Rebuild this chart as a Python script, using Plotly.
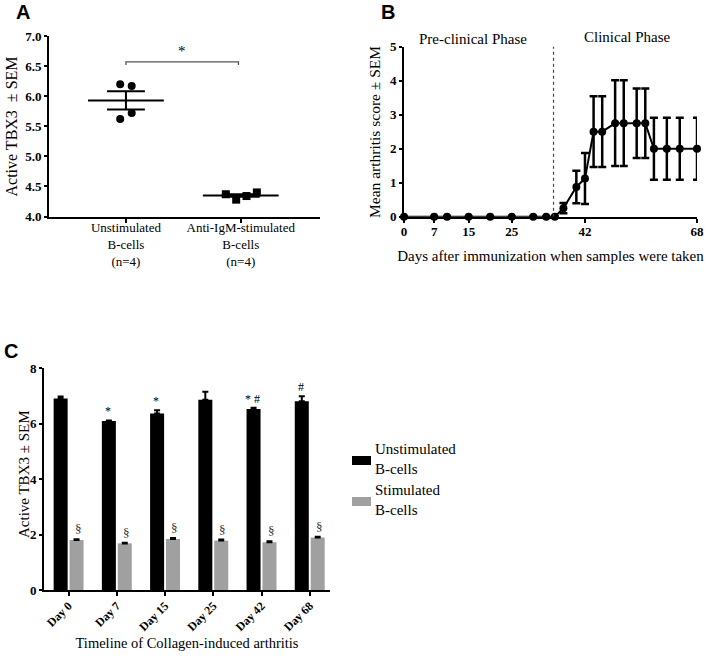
import plotly.graph_objects as go

# ---------------- Panel A data ----------------
a_groups = ["Unstimulated<br>B-cells<br>(n=4)", "Anti-IgM-stimulated<br>B-cells<br>(n=4)"]
a_unstim = [6.20, 6.17, 5.72, 5.62]
a_unstim_jitter = [-0.05, 0.05, 0.05, -0.05]
a_stim = [4.37, 4.28, 4.34, 4.40]
a_stim_jitter = [-0.13, -0.04, 0.05, 0.14]
a_means = [5.93, 4.35]
a_sems = [0.15, 0.02]

# ---------------- Panel B data ----------------
b_days = [0, 7, 10, 15, 20, 25, 30, 33, 35, 37, 40, 42, 44, 46, 49, 51, 54, 56, 58, 61, 64, 68]
b_mean = [0, 0, 0, 0, 0, 0, 0, 0, 0, 0.25, 0.875, 1.125, 2.5, 2.5, 2.75, 2.75, 2.75, 2.75, 2.0, 2.0, 2.0, 2.0]
b_sem = [0, 0, 0, 0, 0, 0, 0, 0, 0, 0.15, 0.48, 0.75, 1.04, 1.04, 1.26, 1.26, 1.02, 1.02, 0.91, 0.91, 0.91, 0.91]
b_ticks = [0, 7, 15, 25, 42, 68]
b_phase_split = 34.7

# ---------------- Panel C data ----------------
c_days = ["Day 0", "Day 7", "Day 15", "Day 25", "Day 42", "Day 68"]
c_series = ["Unstimulated<br>B-cells", "Stimulated<br>B-cells"]
c_unstim = [6.90, 6.09, 6.36, 6.86, 6.52, 6.80]
c_unstim_sem = [0.07, 0.02, 0.12, 0.28, 0.05, 0.18]
c_stim = [1.80, 1.68, 1.84, 1.78, 1.72, 1.89]
c_stim_sem = [0.03, 0.02, 0.03, 0.04, 0.04, 0.03]
c_unstim_marks = ["", "*", "*", "", "* #", "#"]
c_stim_marks = ["§", "§", "§", "§", "§", "§"]

W, H = 709, 658
SERIF = "Liberation Serif"
SANS = "Liberation Sans"
BLACK = "black"
GREY = "#a0a0a0"

def px(x):
    return x / W

def py(y):
    return 1 - y / H

fig = go.Figure()

# ---- Panel A traces ----
fig.add_trace(go.Scatter(
    x=[1 + j for j in a_unstim_jitter], y=a_unstim, mode="markers",
    marker=dict(symbol="circle", size=8, color=BLACK),
    xaxis="x", yaxis="y", showlegend=False, cliponaxis=False))
fig.add_trace(go.Scatter(
    x=[2 + j for j in a_stim_jitter], y=a_stim, mode="markers",
    marker=dict(symbol="square", size=8, color=BLACK),
    xaxis="x", yaxis="y", showlegend=False, cliponaxis=False))

shapes = []
for i, (m, s) in enumerate(zip(a_means, a_sems)):
    c = i + 1
    shapes.append(dict(type="line", xref="x", yref="y", x0=c - 0.33, x1=c + 0.33, y0=m, y1=m,
                       line=dict(color=BLACK, width=2)))
    shapes.append(dict(type="line", xref="x", yref="y", x0=c - 0.165, x1=c + 0.165, y0=m + s, y1=m + s,
                       line=dict(color=BLACK, width=2)))
    shapes.append(dict(type="line", xref="x", yref="y", x0=c - 0.165, x1=c + 0.165, y0=m - s, y1=m - s,
                       line=dict(color=BLACK, width=2)))
    shapes.append(dict(type="line", xref="x", yref="y", x0=c, x1=c, y0=m - s, y1=m + s,
                       line=dict(color=BLACK, width=2)))

# significance bracket
shapes.append(dict(type="path", xref="x", yref="y",
                   path="M 1,6.52 L 1,6.57 L 1.98,6.57 L 1.98,6.52",
                   line=dict(color="#555555", width=1.3)))

# ---- Panel B trace ----
fig.add_trace(go.Scatter(
    x=b_days, y=b_mean, mode="lines+markers",
    line=dict(color=BLACK, width=2),
    marker=dict(symbol="circle", size=8, color=BLACK),
    error_y=dict(type="data", array=b_sem, visible=True, color=BLACK, thickness=2.5, width=4),
    xaxis="x2", yaxis="y2", showlegend=False, cliponaxis=False))
shapes.append(dict(type="line", xref="x2", yref="y2", x0=b_phase_split, x1=b_phase_split, y0=0, y1=5.1,
                   line=dict(color="#444444", width=1.2, dash="dot")))

# ---- Panel C traces ----
fig.add_trace(go.Bar(
    x=list(range(len(c_days))), y=c_unstim, name=c_series[0],
    marker=dict(color=BLACK, line=dict(width=0)),
    error_y=dict(type="data", symmetric=False, array=c_unstim_sem, arrayminus=[0] * 6,
                 color=BLACK, thickness=2, width=3),
    xaxis="x3", yaxis="y3", showlegend=False))
fig.add_trace(go.Bar(
    x=list(range(len(c_days))), y=c_stim, name=c_series[1],
    marker=dict(color=GREY, line=dict(width=0)),
    error_y=dict(type="data", symmetric=False, array=c_stim_sem, arrayminus=[0] * 6,
                 color=BLACK, thickness=2, width=3),
    xaxis="x3", yaxis="y3", showlegend=False))

annotations = []
# panel letters
for letter, x, y in [("A", 23, 12), ("B", 388, 12), ("C", 11, 351)]:
    annotations.append(dict(text=letter, x=px(x), y=py(y), xref="paper", yref="paper",
                            xanchor="center", yanchor="middle", showarrow=False,
                            font=dict(family=SANS, size=20, color=BLACK, weight="bold")))
# y-axis titles (placed as rotated labels)
for text, x, y, size in [("Active TBX3\u00a0 ± SEM", 11, 126.5, 16),
                         ("Mean arthritis score ± SEM", 375, 132, 15.5),
                         ("Active TBX3 ± SEM", 24, 474, 15)]:
    annotations.append(dict(text=text, x=px(x), y=py(y), xref="paper", yref="paper",
                            xanchor="center", yanchor="middle", textangle=-90, showarrow=False,
                            font=dict(family=SERIF, size=size, color=BLACK)))
# significance star
annotations.append(dict(text="*", x=1.49, y=6.58, xref="x", yref="y", yanchor="bottom",
                        showarrow=False, font=dict(family=SERIF, size=15, color=BLACK)))
# phase labels
annotations.append(dict(text="Pre-clinical Phase", x=px(473), y=py(39), xref="paper", yref="paper",
                        xanchor="center", yanchor="middle",
                        showarrow=False, font=dict(family=SERIF, size=15, color=BLACK)))
annotations.append(dict(text="Clinical Phase", x=px(627), y=py(37), xref="paper", yref="paper",
                        xanchor="center", yanchor="middle",
                        showarrow=False, font=dict(family=SERIF, size=15, color=BLACK)))
# panel C marks
for i in range(len(c_days)):
    if c_unstim_marks[i]:
        annotations.append(dict(text=c_unstim_marks[i], x=i - 0.18, y=c_unstim[i] + c_unstim_sem[i],
                                xref="x3", yref="y3", yanchor="bottom", yshift=0, showarrow=False,
                                font=dict(family=SERIF, size=12, color=BLACK)))
    annotations.append(dict(text=c_stim_marks[i], x=i + 0.2, y=c_stim[i] + c_stim_sem[i],
                            xref="x3", yref="y3", yanchor="bottom", yshift=1, showarrow=False,
                            font=dict(family=SERIF, size=13, color="#333333")))

# legend for panel C (drawn)
for name, color, y0 in [(c_series[0], BLACK, 456), (c_series[1], GREY, 497)]:
    shapes.append(dict(type="rect", xref="paper", yref="paper", x0=px(352), x1=px(371),
                       y0=py(y0 + 9), y1=py(y0), fillcolor=color, line=dict(width=0)))
    annotations.append(dict(text=name, x=px(373), y=py(y0 + 3), xref="paper", yref="paper",
                            xanchor="left", yanchor="middle", align="left", showarrow=False,
                            font=dict(family=SERIF, size=15, color=BLACK)))

tickfont_b = dict(family=SERIF, size=13, color=BLACK, weight="bold")

common = dict(showline=True, linecolor=BLACK, linewidth=2, ticks="outside",
              tickwidth=1.5, tickcolor=BLACK, showgrid=False, zeroline=False, automargin=False)

fig.update_layout(
    template="none",
    width=W, height=H, autosize=False,
    margin=dict(l=0, r=0, t=0, b=0, pad=0),
    paper_bgcolor="white", plot_bgcolor="white",
    font=dict(family=SERIF, color=BLACK),
    barmode="group", bargap=0.34, bargroupgap=0.12,
    shapes=shapes, annotations=annotations,
    showlegend=False,
    # Panel A
    xaxis=dict(domain=[px(49), px(320)], range=[0.33, 2.69], tickvals=[1, 2], ticktext=a_groups,
               ticklen=4, ticklabelstandoff=-6,
               tickfont=dict(family=SERIF, size=13, color=BLACK), anchor="y", **common),
    yaxis=dict(domain=[py(216.5), py(36)], range=[4, 7], tickvals=[4, 4.5, 5, 5.5, 6, 6.5, 7],
               tickformat=".1f", ticklen=3, tickfont=tickfont_b, anchor="x", **common),
    # Panel B
    xaxis2=dict(domain=[px(404), px(697)], range=[0, 68], tickvals=b_ticks, ticklen=4,
                ticklabelstandoff=-2, tickfont=tickfont_b, anchor="y2",
                title=dict(text="Days after immunization when samples were taken",
                           font=dict(family=SERIF, size=15, color=BLACK), standoff=12), **common),
    yaxis2=dict(domain=[py(216.7), py(46.7)], range=[0, 5], tickvals=[0, 1, 2, 3, 4, 5], ticklen=3,
                tickfont=tickfont_b, anchor="x2", **common),
    # Panel C
    xaxis3=dict(domain=[px(44), px(330)], range=[-0.51, 5.42], tickvals=list(range(6)),
                ticktext=c_days, tickangle=-45, ticklen=4, ticklabelstandoff=-2,
                tickfont=dict(family=SERIF, size=12, color=BLACK, weight="bold"), anchor="y3",
                title=dict(text="Timeline of Collagen-induced arthritis",
                           font=dict(family=SERIF, size=14.5, color=BLACK), standoff=5),
                **common),
    yaxis3=dict(domain=[py(590), py(368)], range=[0, 8], tickvals=[0, 2, 4, 6, 8], ticklen=3,
                tickfont=tickfont_b, anchor="x3", **common),
)

fig.write_html("out.html", config={"displayModeBar": False},
               post_script="document.body.style.margin='0px';")
